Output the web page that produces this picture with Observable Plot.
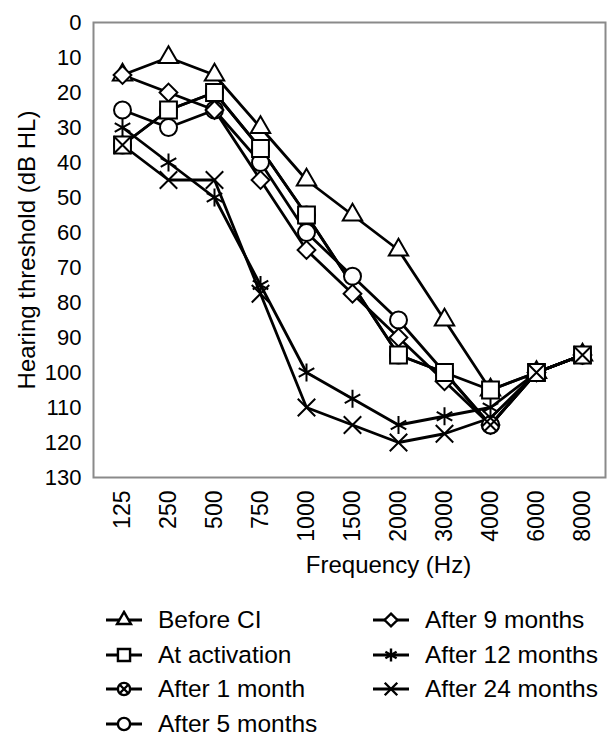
<!DOCTYPE html>
<html>
<head>
<meta charset="utf-8">
<script src="https://cdn.jsdelivr.net/npm/d3@7"></script>
<script src="https://cdn.jsdelivr.net/npm/@observablehq/plot@0.6"></script>
<style>
  body { margin: 0; background: #fff; font-family: "Liberation Sans", Arial, sans-serif; }
  #legend { display: grid; grid-template-columns: 267px 236px; padding: 13px 0 0 105px; }
  #legend .item { height: 34.5px; display: flex; align-items: center; font-size: 24.5px; color: #000; white-space: nowrap; }
  #legend svg { flex: none; margin-right: 15px; }
</style>
</head>
<body>
<div id="chart"></div>
<div id="legend"></div>
<script>
// ---- data ----
const frequencies = ["125", "250", "500", "750", "1000", "1500", "2000", "3000", "4000", "6000", "8000"];
const yTicks = [0, 10, 20, 30, 40, 50, 60, 70, 80, 90, 100, 110, 120, 130];
const seriesNames = ["Before CI", "At activation", "After 1 month", "After 5 months", "After 9 months", "After 12 months", "After 24 months"];
const beforeCI      = [15, 10, 15, 30, 45, 55, 65, 85, 105, 100, 95];
const atActivation  = [35, 25, 20, 36, 55, null, 95, 100, 105, 100, 95];
const after1Month   = [35, 25, 20, 36, 55, null, 95, 100, 115, 100, 95];
const after5Months  = [25, 30, 25, 40, 60, 72.5, 85, 100, 115, 100, 95];
const after9Months  = [15, 20, 25, 45, 65, 77.5, 90, 102.5, 115, 100, 95];
const after12Months = [30, 40, 50, 75, 100, 107.5, 115, 112.5, 110, 100, 95];
const after24Months = [35, 45, 45, 77.5, 110, 115, 120, 117.5, 113, 100, 95];
const xLabel = "Frequency (Hz)";
const yLabel = "Hearing threshold (dB HL)";

// ---- build long table ----
const seriesValues = [beforeCI, atActivation, after1Month, after5Months, after9Months, after12Months, after24Months];
const rows = [];
seriesNames.forEach((name, i) => {
  frequencies.forEach((f, j) => {
    const v = seriesValues[i][j];
    if (v != null) rows.push({series: name, freq: f, value: v});
  });
});

// marker style per series
const markerStyle = {
  "Before CI":       {symbol: "triangle", r: 7.2},
  "At activation":   {symbol: "square", r: 9.5},
  "After 1 month":   {symbol: "circle", r: 8.5, inner: "times", innerR: 5.5},
  "After 5 months":  {symbol: "circle", r: 8.5},
  "After 9 months":  {symbol: "diamond2", r: 8},
  "After 12 months": {symbol: "asterisk", r: 8.5},
  "After 24 months": {symbol: "times", r: 8}
};
const drawOrder = ["Before CI", "After 5 months", "After 9 months", "After 12 months", "After 1 month", "At activation", "After 24 months"];

const dotMarks = [];
for (const name of drawOrder) {
  const s = markerStyle[name];
  const data = rows.filter(d => d.series === name);
  dotMarks.push(Plot.dot(data, {x: "freq", y: "value", symbol: s.symbol, r: s.r, fill: "white", stroke: "black", strokeWidth: 2}));
  if (s.inner) dotMarks.push(Plot.dot(data, {x: "freq", y: "value", symbol: s.inner, r: s.innerR, stroke: "black", strokeWidth: 2}));
}

const chart = Plot.plot({
  width: 608,
  height: 590,
  marginTop: 22,
  marginBottom: 113,
  marginLeft: 93,
  marginRight: 3,
  style: {fontFamily: "'Liberation Sans', Arial, sans-serif", fontSize: "22px", color: "#000", background: "#fff"},
  x: {type: "point", domain: frequencies, range: [118, 585], padding: 0, label: null},
  y: {domain: [0, 130], reverse: true, label: null},
  marks: [
    Plot.frame({stroke: "#8a8a8a", strokeWidth: 2}),
    Plot.axisY({ticks: yTicks, tickSize: 0, tickPadding: 12, label: null, fontSize: 22}),
    Plot.axisX({tickRotate: -90, tickSize: 0, tickPadding: 13, label: null, fontSize: 23}),
    Plot.text([yLabel], {frameAnchor: "left", textAnchor: "middle", lineAnchor: "middle", rotate: -90, dx: -66, fontSize: 24}),
    Plot.text([xLabel], {frameAnchor: "bottom", textAnchor: "middle", lineAnchor: "middle", dx: 39, dy: 88, fontSize: 24}),
    Plot.line(rows, {x: "freq", y: "value", z: "series", stroke: "black", strokeWidth: 2.8}),
    ...dotMarks
  ]
});
document.getElementById("chart").appendChild(chart);

// ---- legend ----
const legendOrder = ["Before CI", "After 9 months", "At activation", "After 12 months", "After 1 month", "After 24 months", "After 5 months"];
const d3Sym = {triangle: d3.symbolTriangle, square: d3.symbolSquare, circle: d3.symbolCircle, diamond2: d3.symbolDiamond2, asterisk: d3.symbolAsterisk, times: d3.symbolTimes};
const legend = d3.select("#legend");
for (const name of legendOrder) {
  const s = markerStyle[name];
  const item = legend.append("div").attr("class", "item");
  const svg = item.append("svg").attr("width", 38).attr("height", 20);
  svg.append("line").attr("x1", 1).attr("x2", 37).attr("y1", 10).attr("y2", 10).attr("stroke", "black").attr("stroke-width", 3);
  const k = 0.72;
  svg.append("path").attr("transform", "translate(19,10)")
    .attr("d", d3.symbol(d3Sym[s.symbol], Math.PI * (s.r * k) ** 2)())
    .attr("fill", "white").attr("stroke", "black").attr("stroke-width", 2.4);
  if (s.inner) svg.append("path").attr("transform", "translate(19,10)")
    .attr("d", d3.symbol(d3Sym[s.inner], Math.PI * (s.innerR * k) ** 2)())
    .attr("fill", "none").attr("stroke", "black").attr("stroke-width", 2.4);
  item.append("span").text(name);
}
</script>
</body>
</html>
